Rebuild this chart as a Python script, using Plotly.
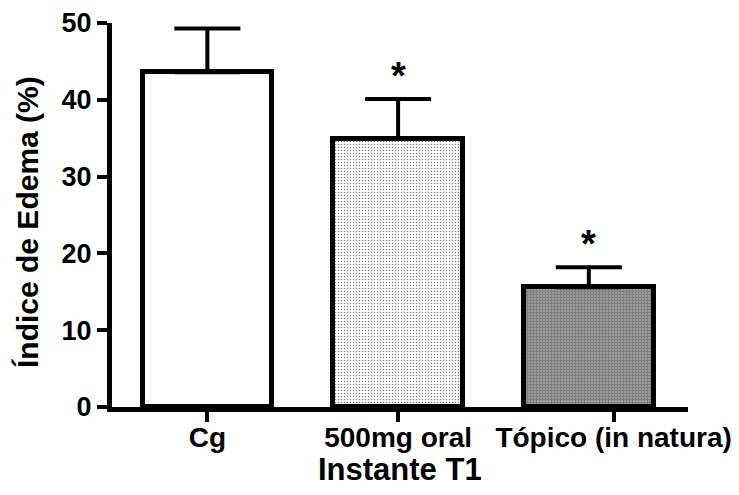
import plotly.graph_objects as go

# Edema index at instant T1 (mean + SEM)
categories = ["Cg", "500mg oral", "Tópico (in natura)"]
means = [43.6, 34.9, 15.6]
sem = [5.7, 5.2, 2.6]
significance = ["", "*", "*"]
y_ticks = [0, 10, 20, 30, 40, 50]

FONT = "Liberation Sans, Arial, Helvetica, sans-serif"

x_pos = list(range(len(categories)))

patterns = [
    dict(shape="", fgcolor="black", bgcolor="white"),
    dict(shape=".", size=3, solidity=0.2, fgcolor="black", bgcolor="white", fillmode="overlay"),
    dict(shape=".", size=3, solidity=0.82, fgcolor="black", bgcolor="white", fillmode="overlay"),
]

fig = go.Figure()
for i, (x, m, e) in enumerate(zip(x_pos, means, sem)):
    fig.add_trace(go.Bar(
        x=[x], y=[m], width=0.68,
        marker=dict(color="white", line=dict(color="black", width=5), pattern=patterns[i]),
        error_y=dict(type="data", symmetric=False, array=[e], arrayminus=[0],
                     color="black", thickness=4, width=33),
        showlegend=False,
    ))

for x, m, e, s in zip(x_pos, means, sem, significance):
    if s:
        fig.add_annotation(x=x, y=m + e, text="<b>" + s + "</b>", showarrow=False,
                           yanchor="middle", yshift=23,
                           font=dict(family=FONT, size=38, color="black"))

# axis titles
fig.add_annotation(xref="paper", yref="paper", x=0.5, y=0, yanchor="middle", yshift=-62,
                   text="<b>Instante T1</b>", showarrow=False,
                   font=dict(family=FONT, size=31, color="black"))
fig.add_annotation(xref="paper", yref="paper", x=0, y=0.5, xanchor="center", xshift=-85,
                   yshift=-7,
                   text="<b>Índice de Edema (%)</b>", textangle=-90, showarrow=False,
                   font=dict(family=FONT, size=30, color="black"))

fig.update_layout(
    width=739, height=495,
    margin=dict(l=112, r=51, t=23, b=88),
    paper_bgcolor="white", plot_bgcolor="white",
    font=dict(family=FONT, color="black"),
    bargap=0,
)
fig.update_xaxes(
    range=[-0.5, 2.52], automargin=False,
    tickmode="array", tickvals=[0, 1, 2.13],
    ticktext=["<b>" + c + "</b>" for c in categories],
    tickfont=dict(family=FONT, size=28, color="black"),
    ticks="outside", ticklen=10, tickwidth=4, tickcolor="black",
    ticklabelstandoff=-9,
    showline=True, linecolor="black", linewidth=5,
    showgrid=False, zeroline=False,
)
fig.update_yaxes(
    range=[0, 50], automargin=False,
    tickmode="array", tickvals=y_ticks,
    ticktext=["<b>%d</b>" % v for v in y_ticks],
    tickfont=dict(family=FONT, size=27, color="black"),
    ticks="outside", ticklen=10, tickwidth=4, tickcolor="black",
    showline=True, linecolor="black", linewidth=5,
    showgrid=False, zeroline=False,
)

fig.write_html("out.html")
